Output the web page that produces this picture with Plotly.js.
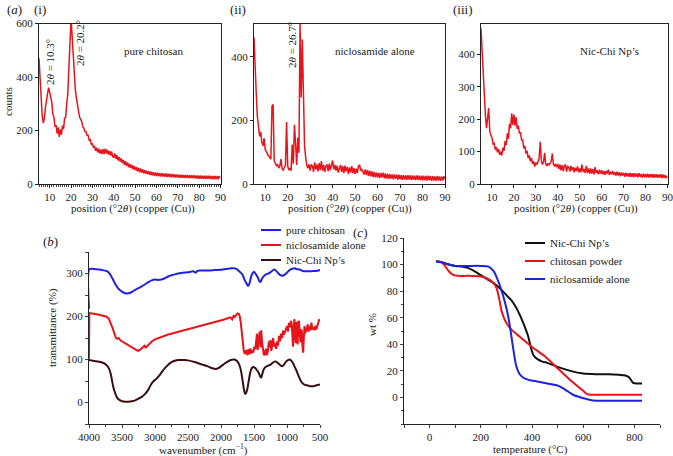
<!DOCTYPE html>
<html>
<head>
<meta charset="utf-8">
<script src="https://cdn.plot.ly/plotly-3.0.1.min.js"></script>
<style>
  html, body { margin: 0; padding: 0; background: #fff; }
  #chart { width: 673px; height: 456px; }
</style>
</head>
<body>
<div id="chart"></div>
<script>
// XRD scans, 5 to 90 deg 2theta, one value every 0.5 deg
const chitosanCounts = [
  470, 395, 310, 255, 228, 245, 285, 320, 338, 360,
  345, 325, 304, 262, 250, 214, 220, 188, 212, 176,
  204, 184, 218, 206, 246, 250, 302, 338, 436, 560,
  615, 555, 470, 405, 355, 322, 288, 272, 250, 242,
  234, 214, 210, 196, 196, 182, 182, 164, 166, 148,
  150, 136, 142, 124, 136, 118, 132, 114, 128, 112,
  130, 112, 132, 114, 128, 110, 124, 106, 122, 102,
  100, 114, 94, 108, 88, 101, 84, 96, 78, 90,
  72, 85, 68, 80, 62, 76, 60, 71, 55, 68,
  52, 64, 48, 61, 45, 58, 43, 55, 40, 52,
  38, 50, 36, 48, 34, 46, 33, 44, 31, 43,
  30, 42, 29, 41, 28, 40, 28, 39, 27, 39,
  26, 38, 26, 37, 25, 37, 25, 36, 24, 36,
  24, 35, 23, 35, 23, 34, 22, 34, 23, 34,
  22, 33, 21, 33, 22, 33, 21, 32, 21, 32,
  20, 32, 20, 31, 20, 31, 19, 31, 20, 31,
  19, 30, 19, 30, 18, 30, 19, 30, 18, 29,
  24
];

const niclosamideCounts = [
  462, 395, 285, 212, 172, 150, 164, 130, 120, 144,
  108, 100, 96, 88, 84, 78, 245, 250, 72, 64,
  58, 62, 50, 56, 78, 48, 44, 52, 58, 195,
  56, 44, 50, 42, 124, 64, 186, 128, 60, 146,
  98, 505, 272, 455, 205, 118, 84, 58, 50, 62,
  42, 62, 56, 38, 68, 46, 62, 40, 66, 44,
  72, 42, 60, 38, 56, 62, 40, 64, 44, 66,
  74, 46, 60, 42, 58, 36, 54, 60, 38, 56,
  34, 58, 40, 54, 32, 52, 36, 56, 34, 50,
  32, 48, 34, 56, 60, 42, 46, 38, 30, 46,
  28, 44, 26, 42, 24, 40, 22, 38, 21, 36,
  20, 35, 19, 34, 21, 36, 18, 33, 17, 32,
  16, 31, 17, 30, 15, 30, 16, 29, 14, 29,
  15, 28, 13, 28, 14, 27, 13, 28, 14, 27,
  12, 27, 13, 26, 12, 27, 13, 26, 12, 26,
  11, 26, 12, 25, 11, 26, 12, 25, 10, 25,
  11, 24, 10, 25, 11, 24, 10, 24, 11, 24,
  16
];

const nicChiCounts = [
  480, 405, 325, 262, 212, 172, 195, 234, 162, 152,
  142, 124, 126, 106, 114, 98, 108, 90, 100, 88,
  112, 102, 132, 120, 156, 140, 186, 172, 218, 182,
  214, 180, 206, 170, 180, 156, 160, 136, 136, 110,
  118, 94, 102, 80, 88, 70, 80, 62, 70, 54,
  66, 60, 70, 80, 130, 72, 60, 68, 96, 62,
  56, 64, 58, 66, 70, 94, 60, 56, 62, 52,
  62, 46, 60, 42, 58, 40, 56, 60, 38, 54,
  52, 38, 56, 42, 52, 36, 50, 40, 54, 36,
  48, 36, 60, 38, 46, 34, 56, 34, 48, 32,
  48, 32, 46, 30, 52, 34, 42, 30, 44, 32,
  42, 30, 40, 28, 40, 32, 44, 28, 38, 30,
  40, 28, 36, 26, 38, 26, 36, 24, 36, 26,
  34, 22, 35, 24, 33, 22, 34, 22, 33, 21,
  33, 22, 32, 21, 33, 22, 31, 20, 32, 21,
  31, 20, 32, 20, 30, 21, 31, 19, 30, 20,
  30, 19, 29, 20, 30, 18, 29, 19, 28, 18,
  24
];

const scanStart = 5;
const scanStep = 0.5;

// FTIR (wavenumber cm-1, transmittance %)
const chitosanWn = [4000, 3995, 3900, 3800, 3720, 3680, 3640, 3600, 3550, 3500, 3450, 3400, 3350, 3300, 3250, 3200, 3150, 3100, 3050, 3000, 2950, 2900, 2850, 2800, 2750, 2700, 2600, 2500, 2420, 2380, 2360, 2300, 2200, 2100, 2000, 1900, 1850, 1800, 1760, 1730, 1700, 1670, 1640, 1610, 1590, 1570, 1545, 1520, 1500, 1470, 1440, 1420, 1400, 1380, 1350, 1320, 1280, 1240, 1200, 1170, 1140, 1100, 1070, 1040, 1000, 960, 920, 880, 850, 820, 790, 760, 720, 680, 640, 600, 560, 520, 500];
const chitosanT = [218, 310, 310, 308, 305, 298, 287, 275, 264, 258, 254, 254, 257, 262, 266, 270, 275, 280, 284, 286, 285, 286, 289, 293, 296, 298, 301, 303, 305, 302, 306, 307, 307, 308, 309, 311, 312, 312, 310, 306, 302, 296, 284, 276, 271, 276, 292, 301, 304, 298, 290, 283, 280, 288, 294, 298, 300, 304, 309, 307, 302, 296, 295, 297, 302, 308, 311, 312, 310, 310, 308, 306, 305, 305, 305, 306, 306, 307, 308];

const niclosamideWn = [4000, 3995, 3900, 3800, 3740, 3700, 3670, 3640, 3610, 3590, 3570, 3550, 3520, 3480, 3440, 3400, 3350, 3300, 3260, 3230, 3190, 3160, 3140, 3110, 3080, 3040, 3000, 2950, 2900, 2850, 2800, 2700, 2600, 2500, 2400, 2300, 2200, 2100, 2000, 1950, 1900, 1860, 1830, 1810, 1790, 1770, 1750, 1730, 1715, 1700, 1685, 1670, 1655, 1640, 1620, 1600, 1585, 1570, 1555, 1540, 1525, 1510, 1495, 1480, 1465, 1455, 1445, 1430, 1415, 1400, 1390, 1378, 1365, 1350, 1335, 1320, 1305, 1290, 1275, 1262, 1250, 1238, 1225, 1210, 1195, 1180, 1165, 1150, 1135, 1120, 1105, 1090, 1075, 1060, 1045, 1030, 1015, 1000, 985, 970, 955, 940, 928, 918, 908, 898, 888, 878, 868, 858, 848, 838, 828, 818, 806, 795, 785, 775, 765, 755, 745, 735, 725, 715, 700, 688, 675, 660, 645, 630, 615, 600, 585, 570, 555, 540, 525, 510, 500];
const niclosamideT = [102, 208, 206, 203, 200, 195, 185, 172, 158, 150, 148, 150, 144, 140, 138, 132, 128, 124, 120, 122, 128, 132, 128, 133, 138, 143, 147, 150, 153, 155, 158, 162, 166, 170, 174, 178, 182, 186, 190, 193, 196, 198, 193, 201, 199, 204, 207, 206, 200, 185, 160, 135, 120, 113, 122, 110, 124, 112, 126, 114, 122, 116, 130, 124, 142, 160, 122, 150, 165, 128, 168, 140, 118, 110, 112, 125, 110, 120, 142, 128, 145, 120, 132, 150, 130, 138, 125, 142, 132, 155, 142, 160, 150, 167, 158, 165, 170, 178, 165, 185, 175, 190, 180, 140, 130, 175, 194, 155, 138, 188, 165, 135, 186, 190, 160, 140, 170, 165, 130, 116, 150, 178, 160, 174, 165, 182, 165, 178, 168, 186, 170, 175, 168, 178, 170, 180, 188, 194];

const nicChiWn = [4000, 3900, 3800, 3740, 3700, 3670, 3650, 3630, 3600, 3570, 3540, 3500, 3450, 3400, 3350, 3300, 3250, 3200, 3150, 3100, 3060, 3020, 2980, 2940, 2900, 2850, 2800, 2750, 2700, 2650, 2600, 2550, 2500, 2400, 2300, 2200, 2120, 2080, 2040, 2000, 1950, 1900, 1850, 1800, 1770, 1740, 1710, 1690, 1670, 1650, 1635, 1620, 1600, 1580, 1560, 1540, 1520, 1500, 1480, 1460, 1440, 1420, 1405, 1390, 1375, 1355, 1335, 1310, 1280, 1250, 1220, 1190, 1165, 1140, 1110, 1085, 1065, 1045, 1025, 1000, 980, 960, 940, 910, 880, 850, 820, 790, 760, 730, 700, 650, 600, 550, 500];
const nicChiT = [99, 96, 93, 88, 80, 66, 50, 35, 20, 10, 6, 3, 2, 2, 3, 5, 9, 13, 20, 30, 42, 50, 55, 62, 70, 80, 88, 94, 97, 99, 99, 99, 98, 94, 89, 84, 79, 78, 80, 84, 90, 95, 99, 100, 98, 93, 82, 68, 48, 28, 20, 22, 32, 50, 68, 78, 82, 82, 80, 76, 72, 66, 60, 58, 66, 76, 81, 84, 86, 88, 92, 95, 95, 92, 88, 85, 85, 88, 93, 97, 99, 100, 98, 92, 82, 72, 60, 50, 44, 41, 40, 38, 38, 40, 42];

// TGA (temperature degC, wt %)
const nicChiTemp = [25, 50, 75, 100, 125, 150, 175, 200, 225, 250, 275, 300, 320, 340, 355, 370, 385, 395, 405, 420, 440, 460, 500, 550, 600, 650, 700, 740, 765, 780, 795, 810, 830];
const nicChiWt = [102.5, 101.5, 100, 99, 98.5, 97.5, 95, 92, 89, 86, 82, 77, 73, 67, 61, 54, 46, 38, 32, 29, 27, 26, 23, 20, 18, 17.5, 17.5, 17, 16.5, 15, 11, 10.5, 10.5];

const chitosanTemp = [25, 45, 60, 75, 90, 110, 150, 200, 230, 250, 262, 272, 280, 290, 300, 320, 350, 400, 450, 500, 550, 600, 615, 630, 700, 830];
const chitosanWt = [102.5, 102, 99, 95, 92.5, 91.5, 91.5, 91, 89, 86, 82, 74, 66, 60, 56, 51, 46, 38, 31, 22, 13, 5, 2.5, 2, 2, 2];

const niclosamideTemp = [25, 50, 75, 100, 150, 200, 230, 250, 265, 280, 295, 308, 318, 328, 338, 350, 365, 390, 420, 460, 500, 520, 540, 560, 590, 620, 650, 700, 830];
const niclosamideWt = [102.5, 101.5, 100, 99, 99, 99, 98.5, 95, 89, 81, 71, 60, 48, 35, 24, 18, 15, 13, 12, 10.5, 9, 7, 4.5, 2, 0, -1.5, -2.5, -2.5, -2.5];

const ftirNames = ['pure chitosan', 'niclosamide alone', 'Nic-Chi Np\u2019s'];
const tgaNames = ['Nic-Chi Np\u2019s', 'chitosan powder', 'niclosamide alone'];

const FONT = 'Liberation Serif, Times New Roman, serif';
const RED = '#e8141c';
const BLUE = '#1f22dc';
const BROWN = '#3a0e10';
const BLACK = '#111111';

const chart = document.getElementById('chart');

function px(x) { return x / 673; }
function py(y) { return 1 - y / 456; }

function scanAxis( counts ) {
  return counts.map( (_, i) => scanStart + i * scanStep );
}

function xrdTrace( counts, axisId ) {
  return { x: scanAxis(counts),
           y: counts,
           xaxis: 'x' + axisId,
           yaxis: 'y' + axisId,
           mode: 'lines',
           showlegend: false,
           line: { color: RED, width: 1.5 }
         };
}

function curve( x, y, axisId, name, color, shape ) {
  return { x: x, y: y,
           xaxis: 'x' + axisId,
           yaxis: 'y' + axisId,
           mode: 'lines',
           name: name,
           showlegend: false,
           line: { color: color, width: 2, shape: shape, smoothing: 0.6 }
         };
}

function xrdXAxis( domain, minor ) {
  const axis = {
    domain: domain, range: [5, 90],
    tickvals: [10, 20, 30, 40, 50, 60, 70, 80, 90],
    showline: true, mirror: true, linecolor: '#222', linewidth: 1,
    ticks: 'outside', ticklen: 3, tickcolor: '#222',
    ticklabeloverflow: 'allow',
    showgrid: false, zeroline: false,
    tickfont: { size: 11, color: '#222' }
  };
  if( minor ) {
    axis.minor = { dtick: 1, ticklen: 2, ticks: 'outside', tickcolor: '#444' };
  }
  return axis;
}

function xrdYAxis( range, tickvals ) {
  return {
    domain: [py(184), py(23.5)], range: range,
    tickvals: tickvals,
    showline: true, mirror: true, linecolor: '#222', linewidth: 1,
    ticks: 'outside', ticklen: 3, tickcolor: '#222',
    showgrid: false, zeroline: false,
    tickfont: { size: 11, color: '#222' }
  };
}

const data = [
  xrdTrace( chitosanCounts, '' ),
  xrdTrace( niclosamideCounts, '2' ),
  xrdTrace( nicChiCounts, '3' ),
  curve( chitosanWn, chitosanT, '4', ftirNames[0], BLUE, 'spline' ),
  curve( niclosamideWn, niclosamideT, '4', ftirNames[1], RED, 'linear' ),
  curve( nicChiWn, nicChiT, '4', ftirNames[2], BROWN, 'spline' ),
  curve( nicChiTemp, nicChiWt, '5', tgaNames[0], BLACK, 'spline' ),
  curve( chitosanTemp, chitosanWt, '5', tgaNames[1], RED, 'spline' ),
  curve( niclosamideTemp, niclosamideWt, '5', tgaNames[2], BLUE, 'spline' )
];

function label( text, x, y, size, angle, anchor ) {
  return { text: text, x: px(x), y: py(y), xref: 'paper', yref: 'paper',
           xanchor: anchor || 'center', yanchor: 'middle',
           showarrow: false, textangle: angle || 0,
           font: { family: FONT, size: size || 11, color: '#222' } };
}

// legend keys drawn as short line + text, like the original figure
const legendShapes = [];
const legendLabels = [];

function addLegend( names, colors, left, top, gap ) {
  names.forEach( (name, i) => {
    const y = top + i * gap;
    legendShapes.push( { type: 'line', xref: 'paper', yref: 'paper',
                         x0: px(left), x1: px(left + 20), y0: py(y), y1: py(y),
                         line: { color: colors[i], width: 2 } } );
    legendLabels.push( label( name, left + 23, y, 11, 0, 'left' ) );
  });
}

addLegend( ftirNames, [BLUE, RED, BROWN], 261, 230, 15 );
addLegend( tgaNames, [BLACK, RED, BLUE], 525, 243, 18 );

const xrdTitle = 'position (\u00b02<i>\u03b8</i>) (copper (Cu))';

const layout = {
  width: 673,
  height: 456,
  margin: { l: 0, r: 0, t: 0, b: 0 },
  paper_bgcolor: '#fff',
  plot_bgcolor: 'rgba(0,0,0,0)',
  font: { family: FONT, size: 11, color: '#222' },
  showlegend: false,

  xaxis: xrdXAxis( [px(39), px(220.5)], true ),
  yaxis: xrdYAxis( [0, 600], [0, 200, 400, 600] ),
  xaxis2: Object.assign( xrdXAxis( [px(254), px(445)], false ), { anchor: 'y2' } ),
  yaxis2: Object.assign( xrdYAxis( [0, 505], [0, 200, 400] ), { anchor: 'x2' } ),
  xaxis3: Object.assign( xrdXAxis( [px(481), px(667.5)], false ), { anchor: 'y3' } ),
  yaxis3: Object.assign( xrdYAxis( [0, 495], [0, 100, 200, 300, 400] ), { anchor: 'x3' } ),

  xaxis4: {
    domain: [px(89), px(320)], anchor: 'y4', range: [4000, 500],
    tickvals: [4000, 3500, 3000, 2500, 2000, 1500, 1000, 500],
    showline: true, linecolor: '#222', ticks: 'outside', ticklen: 3,
    minor: { dtick: 250, ticklen: 2, ticks: 'outside' },
    showgrid: false, zeroline: false, tickfont: { size: 11, color: '#222' }
  },
  yaxis4: {
    domain: [py(424), py(252)], anchor: 'x4', range: [-50, 350],
    tickvals: [0, 100, 200, 300],
    showline: true, linecolor: '#222', ticks: 'outside', ticklen: 3,
    minor: { dtick: 50, ticklen: 3, ticks: 'outside' },
    showgrid: false, zeroline: false, tickfont: { size: 11, color: '#222' }
  },
  xaxis5: {
    domain: [px(404), px(660)], anchor: 'y5', range: [-100, 900],
    tickvals: [0, 200, 400, 600, 800],
    showline: true, linecolor: '#222', ticks: 'outside', ticklen: 3,
    minor: { dtick: 100, ticklen: 3, ticks: 'outside' },
    showgrid: false, zeroline: false, tickfont: { size: 11, color: '#222' }
  },
  yaxis5: {
    domain: [py(424), py(238)], anchor: 'x5', range: [-20, 120],
    tickvals: [0, 20, 40, 60, 80, 100, 120],
    showline: true, linecolor: '#222', ticks: 'outside', ticklen: 3,
    minor: { dtick: 10, ticklen: 2, ticks: 'outside' },
    showgrid: false, zeroline: false, tickfont: { size: 11, color: '#222' }
  },

  shapes: legendShapes,

  annotations: [
    label( '(<i>a</i>)', 14, 10, 13 ),
    label( '(i)', 40, 10, 13 ),
    label( '(ii)', 238, 10, 13 ),
    label( '(iii)', 463, 10, 13 ),
    label( 'pure chitosan', 153, 51, 11 ),
    label( '2<i>\u03b8</i> = 10.3\u00b0', 50, 62, 11, -90 ),
    label( '2<i>\u03b8</i> = 20.2\u00b0', 80, 43, 11, -90 ),
    label( 'niclosamide alone', 375, 51, 11 ),
    label( '2<i>\u03b8</i> = 26.7\u00b0', 292, 45, 11, -90 ),
    label( 'Nic-Chi Np\u2019s', 609, 51, 11 ),
    label( 'counts', 8, 102, 11, -90 ),
    label( xrdTitle, 133, 209, 11 ),
    label( xrdTitle, 350, 209, 11 ),
    label( xrdTitle, 576, 209, 11 ),
    label( '(<i>b</i>)', 50, 241, 13 ),
    label( 'transmittance (%)', 52, 328, 11, -90 ),
    label( 'wavenumber (cm<sup>\u22121</sup>)', 204, 449, 11 ),
    label( '(<i>c</i>)', 360, 232, 13 ),
    label( 'wt %', 372, 325, 11, -90 ),
    label( 'temperature (\u00b0C)', 530, 449, 11 )
  ].concat( legendLabels )
};

Plotly.newPlot( chart, data, layout, { staticPlot: true, displayModeBar: false } );
</script>
</body>
</html>
